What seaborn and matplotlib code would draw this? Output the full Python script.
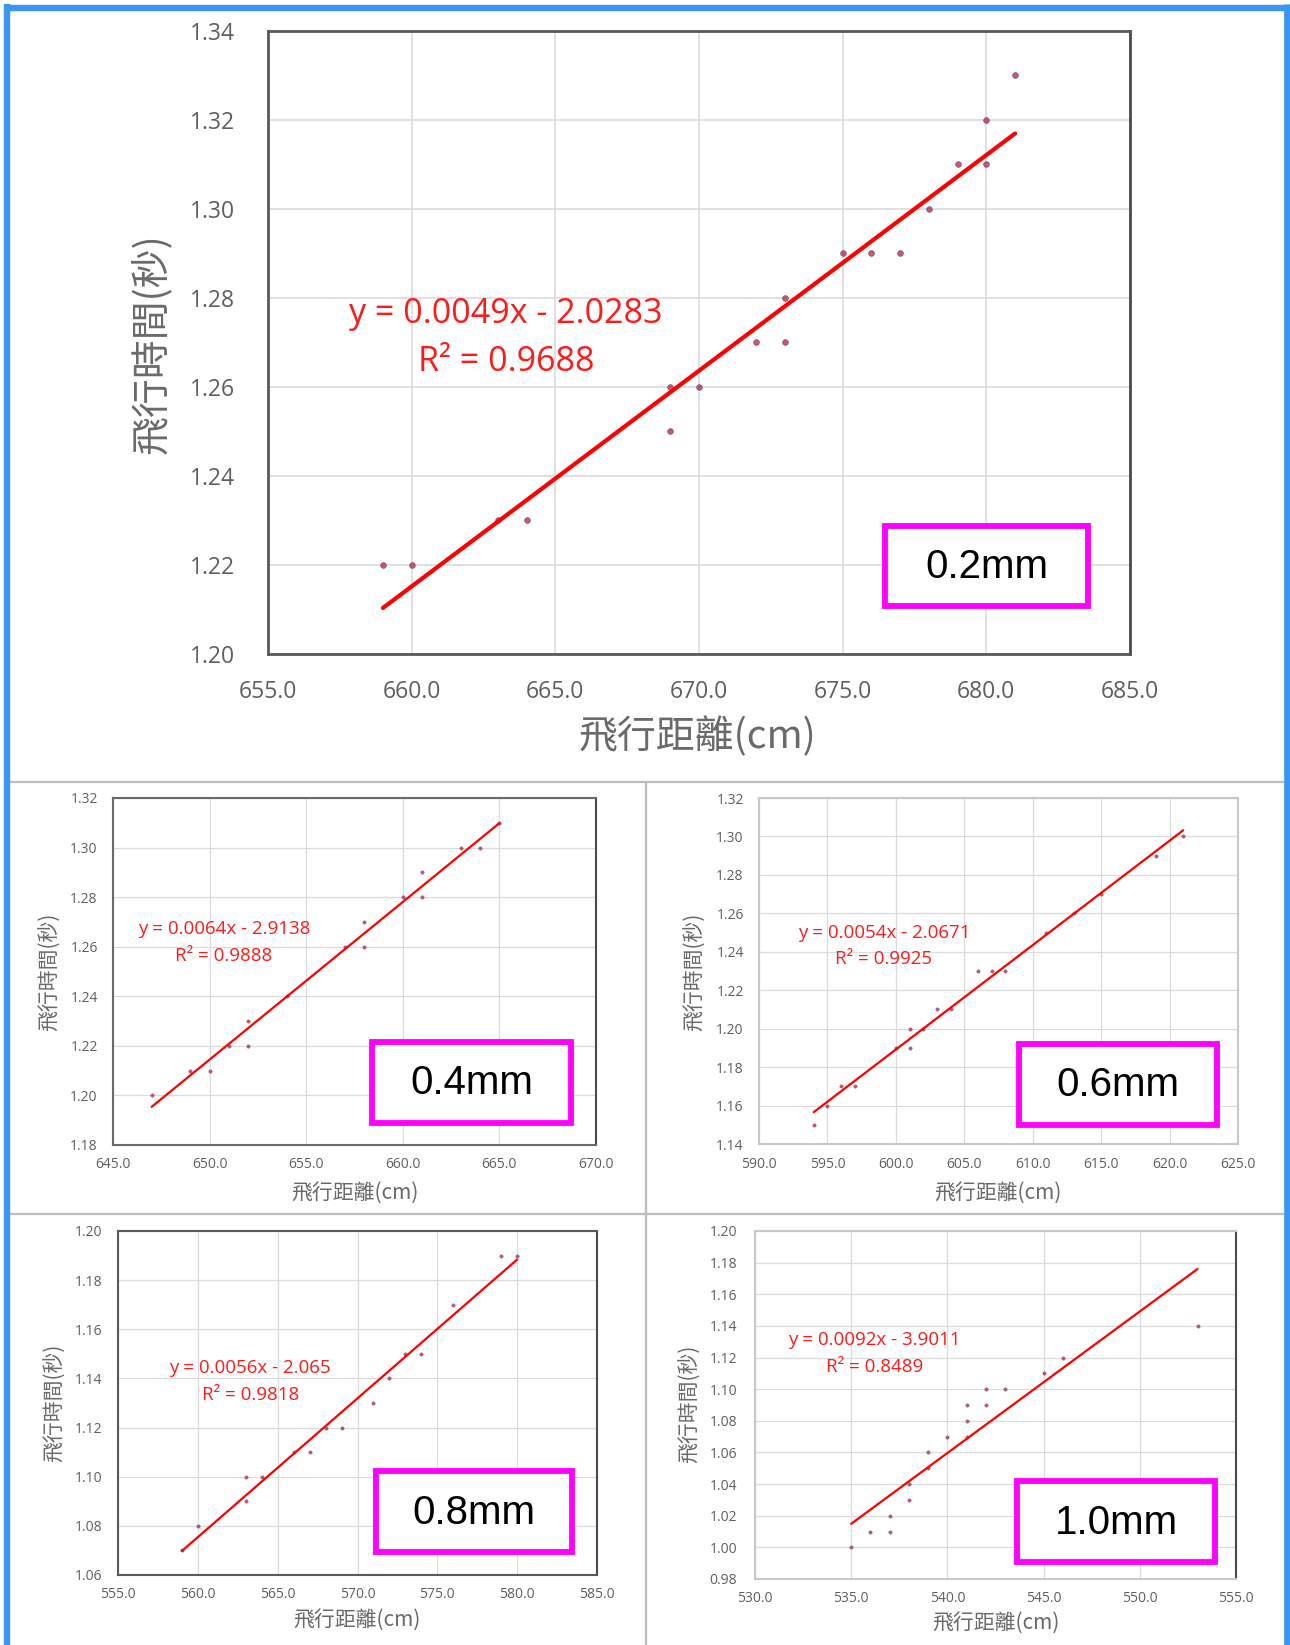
import matplotlib
matplotlib.use("Agg")
import matplotlib.pyplot as plt
from matplotlib.patches import Rectangle
from matplotlib.lines import Line2D
from matplotlib.ticker import FormatStrFormatter
import numpy as np
import pandas as pd
import seaborn as sns

W, H = 1290, 1645

# ---------------- data ----------------
dist_02 = [659, 660, 663, 664, 669, 669, 670, 672, 673, 673, 675, 676, 677, 678, 679, 680, 680, 681]
time_02 = [1.22, 1.22, 1.23, 1.23, 1.26, 1.25, 1.26, 1.27, 1.28, 1.27, 1.29, 1.29, 1.29, 1.30, 1.31, 1.32, 1.31, 1.33]

dist_04 = [647, 649, 650, 651, 652, 652, 654, 657, 658, 658, 660, 661, 661, 663, 664, 665]
time_04 = [1.20, 1.21, 1.21, 1.22, 1.23, 1.22, 1.24, 1.26, 1.27, 1.26, 1.28, 1.29, 1.28, 1.30, 1.30, 1.31]

dist_06 = [594, 595, 596, 597, 600, 601, 601, 602, 603, 604, 606, 607, 608, 611, 613, 615, 619, 621]
time_06 = [1.15, 1.16, 1.17, 1.17, 1.19, 1.20, 1.19, 1.20, 1.21, 1.21, 1.23, 1.23, 1.23, 1.25, 1.26, 1.27, 1.29, 1.30]

dist_08 = [559, 560, 563, 563, 564, 566, 567, 568, 569, 571, 572, 573, 574, 576, 579, 580]
time_08 = [1.07, 1.08, 1.10, 1.09, 1.10, 1.11, 1.11, 1.12, 1.12, 1.13, 1.14, 1.15, 1.15, 1.17, 1.19, 1.19]

dist_10 = [535, 536, 537, 537, 538, 538, 539, 539, 540, 541, 541, 541, 542, 542, 543, 545, 546, 553]
time_10 = [1.00, 1.01, 1.02, 1.01, 1.04, 1.03, 1.06, 1.05, 1.07, 1.09, 1.08, 1.07, 1.10, 1.09, 1.10, 1.11, 1.12, 1.14]

panel_names = ["0.2mm", "0.4mm", "0.6mm", "0.8mm", "1.0mm"]
equations = ["y = 0.0049x - 2.0283", "y = 0.0064x - 2.9138", "y = 0.0054x - 2.0671",
             "y = 0.0056x - 2.065", "y = 0.0092x - 3.9011"]
r_squared = ["R² = 0.9688", "R² = 0.9888", "R² = 0.9925", "R² = 0.9818", "R² = 0.8489"]
x_ticks_02 = [655, 660, 665, 670, 675, 680, 685]
x_ticks_04 = [645, 650, 655, 660, 665, 670]
x_ticks_06 = [590, 595, 600, 605, 610, 615, 620, 625]
x_ticks_08 = [555, 560, 565, 570, 575, 580, 585]
x_ticks_10 = [530, 535, 540, 545, 550, 555]
y_ticks_02 = [1.20, 1.22, 1.24, 1.26, 1.28, 1.30, 1.32, 1.34]
y_ticks_04 = [1.18, 1.20, 1.22, 1.24, 1.26, 1.28, 1.30, 1.32]
y_ticks_06 = [1.14, 1.16, 1.18, 1.20, 1.22, 1.24, 1.26, 1.28, 1.30, 1.32]
y_ticks_08 = [1.06, 1.08, 1.10, 1.12, 1.14, 1.16, 1.18, 1.20]
y_ticks_10 = [0.98, 1.00, 1.02, 1.04, 1.06, 1.08, 1.10, 1.12, 1.14, 1.16, 1.18, 1.20]
x_label = "飛行距離(cm)"
y_label = "飛行時間(秒)"

# ---------------- style ----------------
sns.set_style("white")
plt.rcParams['font.family'] = ['Open Sans', 'Noto Sans CJK TC', 'DejaVu Sans']
CJK = ['Noto Sans CJK TC', 'DejaVu Sans']

fig = plt.figure(figsize=(W / 100, H / 100), dpi=100)
fig.patch.set_facecolor("white")


def fx(x):
    return x / W


def fy(y):
    return 1 - y / H


layout = [
    dict(rect=(268, 31, 1130, 654), ylab=(152, 344), xlab=(698, 737), eq=(506, 314), r2=(506, 362),
         box=(885, 526, 1088, 606), tick_fs=16.5, lab_fs=28, eq_fs=24.5, ypad=24, xpad=19,
         spine='#595959', spine_lw=2.0, s=17, lw=3.0, grid_lw=1.2, right_dark=True),
    dict(rect=(113, 798, 596, 1145), ylab=(50, 972), xlab=(355, 1193), eq=(224, 929), r2=(224, 956),
         box=(372, 1042, 571, 1123), tick_fs=10, lab_fs=15, eq_fs=13.5, ypad=11, xpad=9,
         spine='#6a6a6a', spine_lw=1.5, s=6, lw=1.6, grid_lw=0.9, right_dark=True),
    dict(rect=(759, 798, 1238, 1144), ylab=(695, 972), xlab=(998, 1193), eq=(884, 933), r2=(884, 959),
         box=(1019, 1044, 1217, 1125), tick_fs=10, lab_fs=15, eq_fs=13.5, ypad=11, xpad=9,
         spine='#c8c8c8', spine_lw=1.5, s=6, lw=1.6, grid_lw=0.9, right_dark=False),
    dict(rect=(118, 1231, 597, 1575), ylab=(55, 1403), xlab=(357, 1620), eq=(250, 1368), r2=(251, 1395),
         box=(376, 1471, 572, 1552), tick_fs=10, lab_fs=15, eq_fs=13.5, ypad=11, xpad=9,
         spine='#5a5a5a', spine_lw=1.5, s=6, lw=1.6, grid_lw=0.9, right_dark=True),
    dict(rect=(755, 1231, 1236, 1579), ylab=(690, 1404), xlab=(996, 1623), eq=(874, 1340), r2=(875, 1367),
         box=(1017, 1481, 1215, 1562), tick_fs=10, lab_fs=15, eq_fs=13.5, ypad=13, xpad=9,
         spine='#c8c8c8', spine_lw=1.5, s=6, lw=1.6, grid_lw=0.9, right_dark=True),
]

data_sets = [(dist_02, time_02, x_ticks_02, y_ticks_02),
             (dist_04, time_04, x_ticks_04, y_ticks_04),
             (dist_06, time_06, x_ticks_06, y_ticks_06),
             (dist_08, time_08, x_ticks_08, y_ticks_08),
             (dist_10, time_10, x_ticks_10, y_ticks_10)]

for i, (cfg, (xd, yd, xt, yt)) in enumerate(zip(layout, data_sets)):
    l, t, r, b = cfg['rect']
    ax = fig.add_axes([fx(l), fy(b), (r - l) / W, (b - t) / H])
    df = pd.DataFrame({"distance": xd, "time": yd})
    sns.regplot(data=df, x="distance", y="time", ax=ax, ci=None, truncate=True,
                scatter_kws=dict(s=cfg['s'], facecolor='#d0283c', edgecolor='#3a4f90',
                                 linewidths=0.5 if i == 0 else 0.3, zorder=3),
                line_kws=dict(color='#ff0000', lw=cfg['lw'], zorder=4))
    ax.set_xlim(xt[0], xt[-1])
    ax.set_ylim(yt[0], yt[-1])
    ax.set_xticks(xt)
    ax.set_yticks(yt)
    ax.xaxis.set_major_formatter(FormatStrFormatter('%.1f'))
    ax.yaxis.set_major_formatter(FormatStrFormatter('%.2f'))
    ax.grid(True, color='#dcdcdc', lw=cfg['grid_lw'], zorder=0)
    ax.set_axisbelow(True)
    ax.tick_params(axis='both', length=0, labelsize=cfg['tick_fs'], colors='#5f5f5f')
    ax.tick_params(axis='y', pad=cfg['ypad'])
    ax.tick_params(axis='x', pad=cfg['xpad'])
    for sp in ax.spines.values():
        sp.set_visible(True)
        sp.set_color(cfg['spine'])
        sp.set_linewidth(cfg['spine_lw'])
    if cfg['right_dark']:
        ax.spines['right'].set_color('#4a4a4a')
    ax.set_xlabel(x_label, fontsize=cfg['lab_fs'], color='#6a6a6a', family=CJK, va='center', ha='center')
    ax.set_ylabel(y_label, fontsize=cfg['lab_fs'], color='#6a6a6a', family=CJK, va='center', ha='center')
    ax.xaxis.set_label_coords(fx(cfg['xlab'][0]), fy(cfg['xlab'][1]), transform=fig.transFigure)
    ax.yaxis.set_label_coords(fx(cfg['ylab'][0]), fy(cfg['ylab'][1]), transform=fig.transFigure)

    # trendline equation
    fig.text(fx(cfg['eq'][0]), fy(cfg['eq'][1]), equations[i], color='#ff1a1a', fontsize=cfg['eq_fs'],
             ha='center', va='center', family=['Open Sans', 'DejaVu Sans'], zorder=6)
    fig.text(fx(cfg['r2'][0]), fy(cfg['r2'][1]), r_squared[i], color='#ff1a1a', fontsize=cfg['eq_fs'],
             ha='center', va='center', family=['Open Sans', 'DejaVu Sans'], zorder=6)

    # magenta label box
    bl, bt, br, bb = cfg['box']
    fig.add_artist(Rectangle((fx(bl), fy(bb)), (br - bl) / W, (bb - bt) / H, transform=fig.transFigure,
                             facecolor='white', edgecolor='#ff00ff', lw=4.2, zorder=5))
    fig.text(fx((bl + br) / 2), fy((bt + bb) / 2 + 1), panel_names[i], fontsize=29, color='black',
             ha='center', va='center', family=['Liberation Sans', 'DejaVu Sans'], zorder=6)

# separators
sep = '#bdbdbd'
fig.add_artist(Line2D([fx(10), fx(1283)], [fy(781.5), fy(781.5)], transform=fig.transFigure, color=sep, lw=1.6))
fig.add_artist(Line2D([fx(10), fx(1283)], [fy(1213.5), fy(1213.5)], transform=fig.transFigure, color=sep, lw=1.6))
fig.add_artist(Line2D([fx(646), fx(646)], [fy(781.5), fy(1645)], transform=fig.transFigure, color=sep, lw=1.6))

# blue frame (left, top, right)
blue = '#3a96f5'
fig.add_artist(Line2D([fx(7), fx(7)], [fy(4), fy(1645)], transform=fig.transFigure, color=blue, lw=4.6,
                      solid_capstyle='butt'))
fig.add_artist(Line2D([fx(4), fx(1290)], [fy(8), fy(8)], transform=fig.transFigure, color=blue, lw=4.6,
                      solid_capstyle='butt'))
fig.add_artist(Line2D([fx(1286.5), fx(1286.5)], [fy(4), fy(1645)], transform=fig.transFigure, color=blue, lw=4.8,
                      solid_capstyle='butt'))

fig.savefig("out.png", dpi=100, facecolor='white')
